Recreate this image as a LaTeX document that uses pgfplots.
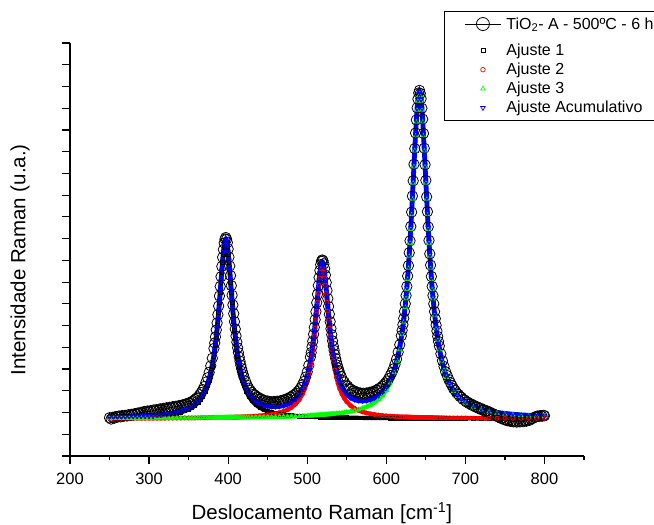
\documentclass[border=0pt]{standalone}
\usepackage{fontspec}
\setmainfont{Liberation Sans}
\usepackage{pgfplots}
\usepackage{pgfplotstable}
\pgfplotsset{compat=1.18}

% measured spectrum
\pgfplotstableread{
x d
250 1.76
252 1.70
254 1.78
256 1.74
258 1.82
260 1.79
262 1.84
264 1.80
266 1.86
268 1.83
270 1.87
272 1.84
274 1.90
276 1.86
278 1.92
280 1.89
282 1.95
284 1.92
286 1.98
288 1.95
290 2.01
292 1.98
294 2.05
296 2.01
298 2.07
300 2.04
302 2.09
304 2.05
306 2.12
308 2.08
310 2.14
312 2.10
314 2.17
316 2.12
318 2.19
320 2.15
322 2.22
324 2.18
326 2.24
328 2.20
330 2.27
332 2.23
334 2.29
336 2.26
338 2.32
340 2.29
342 2.35
344 2.33
346 2.39
348 2.38
350 2.44
352 2.43
354 2.50
356 2.54
358 2.60
360 2.66
362 2.72
364 2.82
366 2.92
368 3.05
370 3.20
372 3.40
374 3.60
376 3.85
378 4.15
380 4.50
382 4.95
383 5.20
384 5.48
385 5.80
386 6.12
387 6.50
388 6.90
389 7.36
390 7.80
391 8.25
392 8.72
393 9.14
394 9.50
395 9.80
396 9.98
397 10.05
398 9.97
399 9.82
400 9.52
401 9.15
402 8.74
403 8.30
404 7.84
405 7.40
406 6.95
407 6.55
408 6.18
409 5.84
410 5.52
411 5.24
412 4.98
413 4.76
414 4.55
415 4.36
416 4.18
417 4.02
418 3.88
419 3.75
420 3.63
422 3.44
424 3.26
426 3.12
428 3.02
430 2.93
432 2.84
434 2.80
436 2.72
438 2.70
440 2.63
442 2.62
444 2.55
446 2.56
448 2.49
450 2.53
452 2.46
454 2.50
456 2.44
458 2.51
460 2.46
462 2.52
464 2.47
466 2.54
468 2.52
470 2.58
472 2.56
474 2.63
476 2.63
478 2.70
480 2.71
482 2.78
484 2.82
486 2.88
488 2.96
490 3.04
492 3.15
494 3.28
496 3.43
498 3.63
500 3.87
502 4.17
504 4.55
505 4.76
506 5.02
507 5.28
508 5.60
509 5.92
510 6.27
511 6.64
512 7.05
513 7.44
514 7.84
515 8.21
516 8.54
517 8.80
518 8.96
519 9.02
520 8.98
521 8.84
522 8.62
523 8.32
524 7.98
525 7.62
526 7.24
527 6.88
528 6.52
529 6.18
530 5.86
531 5.58
532 5.30
533 5.06
534 4.86
535 4.66
536 4.48
537 4.32
538 4.18
539 4.05
540 3.93
541 3.82
543 3.66
545 3.48
547 3.40
549 3.26
551 3.22
553 3.10
555 3.08
557 2.99
559 3.00
561 2.92
563 2.94
565 2.86
567 2.90
569 2.84
571 2.89
573 2.84
575 2.90
577 2.86
579 2.93
581 2.90
583 2.97
585 2.95
587 3.03
589 3.03
591 3.11
593 3.13
595 3.21
597 3.28
599 3.36
601 3.45
603 3.56
605 3.70
607 3.84
609 4.01
611 4.22
613 4.46
615 4.78
617 5.12
619 5.53
620 5.78
621 6.04
622 6.33
623 6.65
624 7.00
625 7.38
626 7.80
627 8.28
628 8.76
629 9.35
630 9.90
631 10.56
632 11.22
633 11.96
634 12.66
635 13.42
636 14.14
637 14.86
638 15.46
639 16.02
640 16.42
641 16.70
642 16.82
643 16.68
644 16.44
645 16.00
646 15.50
647 14.84
648 14.16
649 13.40
650 12.68
651 11.92
652 11.24
653 10.54
654 9.92
655 9.30
656 8.78
657 8.26
658 7.80
659 7.38
660 7.00
661 6.64
662 6.32
663 6.02
664 5.75
665 5.50
666 5.27
667 5.06
669 4.70
671 4.38
673 4.12
675 3.88
677 3.70
679 3.52
681 3.38
683 3.24
685 3.10
687 3.02
689 2.90
691 2.84
693 2.74
695 2.70
697 2.60
699 2.58
701 2.49
703 2.48
705 2.40
707 2.40
709 2.32
711 2.33
713 2.25
715 2.26
717 2.18
719 2.20
721 2.12
723 2.14
725 2.06
727 2.08
729 2.00
731 2.02
733 1.94
735 1.95
737 1.87
739 1.88
741 1.80
743 1.80
745 1.73
747 1.74
749 1.67
751 1.68
753 1.62
755 1.65
757 1.59
759 1.62
761 1.57
763 1.60
765 1.56
767 1.60
769 1.57
771 1.61
773 1.58
775 1.63
777 1.60
779 1.66
781 1.64
783 1.71
785 1.72
787 1.78
789 1.80
791 1.84
793 1.82
795 1.86
797 1.83
799 1.87
800 1.85
}\datatable

% fits: f1..f3 single peaks, c cumulative
\pgfplotstableread{
x f1 f2 f3 c
250 1.765 1.732 1.736 1.793
255 1.769 1.732 1.737 1.797
260 1.772 1.733 1.737 1.802
265 1.776 1.733 1.738 1.807
270 1.781 1.734 1.738 1.812
275 1.786 1.734 1.739 1.818
280 1.791 1.735 1.739 1.825
285 1.798 1.735 1.740 1.833
290 1.805 1.736 1.740 1.841
295 1.814 1.737 1.741 1.851
300 1.823 1.738 1.742 1.862
305 1.835 1.738 1.742 1.875
310 1.848 1.739 1.743 1.890
315 1.864 1.740 1.744 1.907
320 1.883 1.741 1.744 1.928
325 1.905 1.742 1.745 1.953
330 1.933 1.744 1.746 1.982
335 1.968 1.745 1.747 2.020
340 2.012 1.746 1.748 2.066
345 2.068 1.748 1.749 2.124
350 2.142 1.749 1.750 2.201
354 2.219 1.751 1.750 2.280
358 2.319 1.752 1.751 2.383
362 2.451 1.754 1.752 2.517
365 2.579 1.755 1.753 2.647
368 2.743 1.757 1.754 2.813
371 2.954 1.758 1.754 3.027
374 3.234 1.760 1.755 3.309
376 3.470 1.761 1.756 3.547
378 3.761 1.762 1.756 3.839
380 4.119 1.763 1.757 4.199
382 4.563 1.765 1.757 4.645
383 4.823 1.765 1.758 4.906
384 5.112 1.766 1.758 5.196
385 5.432 1.767 1.758 5.517
386 5.785 1.767 1.759 5.871
387 6.171 1.768 1.759 6.258
388 6.590 1.769 1.759 6.678
389 7.038 1.770 1.760 7.128
390 7.506 1.770 1.760 7.596
391 7.986 1.771 1.760 8.077
392 8.458 1.772 1.760 8.550
393 8.900 1.773 1.761 8.994
394 9.287 1.774 1.761 9.382
395 9.590 1.774 1.761 9.685
396 9.783 1.775 1.762 9.880
397 9.850 1.776 1.762 9.948
398 9.783 1.777 1.762 9.882
399 9.590 1.778 1.763 9.691
400 9.287 1.779 1.763 9.389
401 8.900 1.780 1.763 9.003
402 8.458 1.781 1.764 8.563
403 7.986 1.782 1.764 8.092
404 7.506 1.783 1.764 7.613
405 7.038 1.784 1.765 7.147
406 6.590 1.785 1.765 6.700
407 6.171 1.786 1.765 6.282
408 5.785 1.787 1.766 5.898
409 5.432 1.788 1.766 5.546
410 5.112 1.790 1.766 5.228
411 4.823 1.791 1.767 4.941
412 4.563 1.793 1.768 4.684
414 4.119 1.796 1.768 4.243
416 3.761 1.798 1.769 3.889
418 3.470 1.802 1.770 3.602
420 3.234 1.805 1.771 3.370
423 2.954 1.810 1.773 3.097
426 2.743 1.816 1.774 2.893
430 2.533 1.825 1.776 2.694
435 2.348 1.837 1.779 2.524
440 2.219 1.852 1.782 2.413
445 2.126 1.870 1.785 2.341
450 2.056 1.892 1.788 2.296
455 2.002 1.919 1.792 2.273
460 1.961 1.954 1.796 2.270
465 1.927 1.997 1.800 2.284
470 1.900 2.054 1.805 2.318
475 1.879 2.129 1.810 2.378
480 1.861 2.232 1.816 2.469
485 1.845 2.379 1.822 2.606
490 1.832 2.594 1.829 2.815
494 1.823 2.847 1.835 3.065
497 1.817 3.110 1.839 3.326
500 1.812 3.464 1.844 3.680
502 1.808 3.771 1.848 3.987
504 1.805 4.150 1.852 4.367
505 1.804 4.373 1.853 4.590
506 1.802 4.620 1.855 4.837
507 1.801 4.893 1.857 5.111
508 1.799 5.195 1.859 5.413
509 1.798 5.525 1.861 5.744
510 1.796 5.883 1.863 6.102
511 1.795 6.266 1.866 6.487
512 1.794 6.666 1.868 6.888
513 1.792 7.076 1.870 7.298
514 1.791 7.480 1.873 7.704
515 1.790 7.858 1.875 8.083
516 1.789 8.188 1.878 8.415
517 1.788 8.448 1.880 8.676
518 1.787 8.613 1.883 8.843
519 1.786 8.670 1.885 8.901
520 1.784 8.613 1.888 8.845
521 1.783 8.448 1.891 8.682
522 1.782 8.188 1.894 8.424
523 1.781 7.858 1.897 8.096
524 1.780 7.480 1.900 7.720
525 1.780 7.076 1.903 7.319
526 1.779 6.666 1.905 6.910
527 1.778 6.266 1.909 6.513
528 1.777 5.883 1.912 6.132
529 1.776 5.525 1.916 5.777
530 1.775 5.195 1.919 5.449
531 1.775 4.893 1.922 5.150
532 1.774 4.620 1.926 4.880
533 1.773 4.373 1.930 4.636
535 1.771 3.951 1.938 4.220
537 1.770 3.610 1.946 3.886
539 1.769 3.334 1.954 3.617
541 1.767 3.110 1.964 3.401
544 1.765 2.847 1.979 3.151
547 1.764 2.649 1.995 2.968
550 1.762 2.497 2.013 2.832
555 1.759 2.314 2.047 2.680
560 1.757 2.186 2.087 2.590
565 1.755 2.096 2.134 2.545
570 1.753 2.029 2.192 2.534
575 1.751 1.978 2.262 2.551
580 1.749 1.939 2.349 2.597
585 1.748 1.908 2.459 2.675
590 1.746 1.883 2.599 2.788
595 1.745 1.863 2.783 2.951
600 1.744 1.846 3.027 3.177
605 1.743 1.832 3.363 3.498
610 1.742 1.820 3.838 3.960
614 1.741 1.812 4.371 4.484
617 1.740 1.806 4.901 5.007
620 1.740 1.802 5.589 5.691
622 1.739 1.798 6.160 6.257
624 1.739 1.796 6.845 6.940
625 1.739 1.794 7.237 7.330
626 1.739 1.793 7.664 7.756
627 1.739 1.791 8.132 8.222
628 1.738 1.790 8.642 8.731
629 1.738 1.789 9.195 9.283
630 1.738 1.788 9.792 9.878
631 1.738 1.787 10.433 10.518
632 1.738 1.786 11.113 11.197
633 1.737 1.785 11.826 11.909
634 1.737 1.783 12.563 12.644
635 1.737 1.782 13.309 13.389
636 1.737 1.781 14.045 14.124
637 1.737 1.780 14.743 14.821
638 1.736 1.779 15.377 15.454
639 1.736 1.778 15.914 15.990
640 1.736 1.777 16.325 16.400
641 1.736 1.776 16.582 16.656
642 1.736 1.775 16.670 16.743
643 1.736 1.774 16.582 16.654
644 1.736 1.774 16.325 16.396
645 1.736 1.773 15.914 15.984
646 1.736 1.772 15.377 15.446
647 1.736 1.772 14.743 14.812
648 1.736 1.771 14.045 14.113
649 1.735 1.770 13.309 13.376
650 1.735 1.769 12.563 12.629
651 1.735 1.768 11.826 11.891
652 1.735 1.768 11.113 11.177
653 1.735 1.767 10.433 10.497
654 1.735 1.767 9.792 9.855
655 1.735 1.766 9.195 9.257
656 1.735 1.765 8.642 8.703
657 1.735 1.765 8.132 8.192
658 1.734 1.764 7.664 7.723
659 1.734 1.763 7.237 7.294
661 1.734 1.762 6.488 6.544
663 1.734 1.761 5.861 5.916
665 1.734 1.760 5.339 5.393
667 1.733 1.759 4.901 4.954
670 1.733 1.757 4.371 4.421
673 1.733 1.755 3.957 4.005
676 1.733 1.754 3.626 3.673
680 1.732 1.752 3.287 3.332
685 1.732 1.750 2.971 3.013
690 1.731 1.749 2.741 2.781
695 1.731 1.747 2.568 2.606
700 1.731 1.746 2.435 2.471
710 1.730 1.743 2.248 2.282
720 1.729 1.741 2.124 2.155
730 1.729 1.739 2.039 2.067
740 1.728 1.738 1.979 2.005
750 1.728 1.736 1.934 1.958
760 1.727 1.735 1.899 1.921
770 1.727 1.734 1.873 1.894
780 1.726 1.732 1.852 1.872
790 1.726 1.731 1.835 1.853
800 1.726 1.731 1.820 1.837
}\fittable

\begin{document}
\begin{tikzpicture}
\useasboundingbox (0pt,0pt) rectangle (654pt,525pt);
\begin{axis}[
  at={(70pt,69pt)}, anchor=south west,
  scale only axis, width=514pt, height=413pt,
  xmin=200, xmax=850, ymin=0, ymax=19,
  axis x line*=bottom, axis y line*=left,
  axis line style={line width=1.2pt, black},
  xtick={200,300,...,800}, minor xtick={250,350,...,850},
  ytick={0,1,...,19}, yticklabels={},
  tick align=outside, major tick length=8pt, minor tick length=4.5pt,
  tick style={black, line width=1.2pt},
  tick label style={font=\fontsize{16.5}{19}\selectfont},
  xticklabel style={yshift=-5pt},
  /pgf/number format/assume math mode=true,
  /pgf/number format/1000 sep={},
  xlabel={Deslocamento Raman [cm\textsuperscript{-1}]},
  ylabel={Intensidade Raman (u.a.)},
  label style={font=\fontsize{20.5}{24}\selectfont},
  xlabel style={at={(axis description cs:0.49,-0.138)}, anchor=center},
  ylabel style={at={(axis description cs:-0.097,0.475)}, anchor=center},
  legend style={at={(axis description cs:0.7276,1.0775)}, anchor=north west,
    draw=black, line width=1pt, fill=white, inner xsep=20pt, inner ysep=4pt,
    font=\fontsize{16}{19}\selectfont, row sep=2pt,
    /tikz/column 1/.style={column sep=3pt}},
  legend cell align=left,
]
\addplot[black, line width=0.8pt, mark=o, mark size=5.2pt, mark options={solid, line width=0.8pt},
  legend image code/.code={
    \path[draw=none, fill=none] (0pt,-16pt) -- (0pt,7pt);
    \draw[mark repeat=2, mark phase=2, mark size=6.5pt, line width=0.9pt]
      plot coordinates {(-1pt,0pt) (17pt,0pt) (35pt,0pt)};}]
  table[x=x, y=d] {\datatable};
\addlegendentry{TiO\textsubscript{2}- A - 500ºC - 6 h}
\addplot[black, line width=4.2pt, mark=square, mark size=1.8pt, mark options={line width=0.8pt},
  legend image code/.code={\draw[only marks, mark=square, mark size=2pt, mark options={line width=0.7pt}] plot coordinates {(17pt,0pt)};}]
  table[x=x, y=f1] {\fittable};
\addlegendentry{Ajuste 1}
\addplot[red, line width=4.2pt, mark=o, mark size=2pt, mark options={line width=0.8pt},
  legend image code/.code={\draw[only marks, mark=o, mark size=2.3pt, mark options={line width=0.7pt}] plot coordinates {(17pt,0pt)};}]
  table[x=x, y=f2] {\fittable};
\addlegendentry{Ajuste 2}
\addplot[green, line width=4.2pt, mark=triangle, mark size=2.4pt, mark options={line width=0.8pt},
  legend image code/.code={\draw[only marks, mark=triangle, mark size=2.6pt, mark options={line width=0.7pt}] plot coordinates {(17pt,0pt)};}]
  table[x=x, y=f3] {\fittable};
\addlegendentry{Ajuste 3}
\addplot[blue, line width=4.8pt, mark=triangle, mark size=2.4pt, mark options={line width=0.8pt, rotate=180},
  legend image code/.code={\draw[only marks, mark=triangle, mark size=2.6pt, mark options={line width=0.7pt, rotate=180}] plot coordinates {(17pt,0pt)};}]
  table[x=x, y=c] {\fittable};
\addlegendentry{\makebox[150pt][l]{Ajuste Acumulativo}}
\end{axis}
\end{tikzpicture}
\end{document}
